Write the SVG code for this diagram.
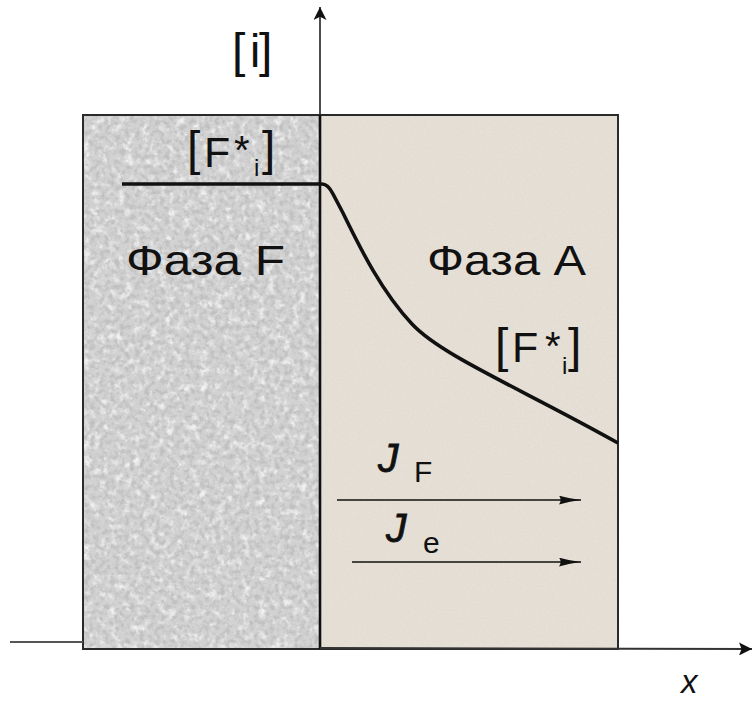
<svg xmlns="http://www.w3.org/2000/svg" width="752" height="701" viewBox="0 0 752 701">
<style>
.t{font-family:"Liberation Sans",Arial,sans-serif;fill:#111;}
.b{font-size:48px;}
.m{font-size:43px;}
.s{font-size:40px;}
.j{font-size:41px;font-style:italic;stroke:#111;stroke-width:0.8;}
.fl{stroke:#111;stroke-width:1.6;fill:none;}
</style>
<defs>
<filter id="darkF" x="0" y="0" width="100%" height="100%">
<feTurbulence type="fractalNoise" baseFrequency="0.2" numOctaves="3" seed="3" result="n"/>
<feColorMatrix type="matrix" values="0 0 0 0 0.45  0 0 0 0 0.45  0 0 0 0 0.45  0 0 0 -3 1.75" in="n" result="c"/>
<feComposite in="c" in2="SourceGraphic" operator="in"/>
</filter>
<filter id="lightF" x="0" y="0" width="100%" height="100%">
<feTurbulence type="fractalNoise" baseFrequency="0.12" numOctaves="3" seed="9" result="n"/>
<feColorMatrix type="matrix" values="0 0 0 0 0.95  0 0 0 0 0.95  0 0 0 0 0.95  0 0 0 3 -1.45" in="n" result="c"/>
<feComposite in="c" in2="SourceGraphic" operator="in"/>
</filter>
<filter id="noiseA" x="0" y="0" width="100%" height="100%">
<feTurbulence type="fractalNoise" baseFrequency="0.5" numOctaves="2" seed="7" result="n"/>
<feColorMatrix type="matrix" values="0 0 0 0 0.72  0 0 0 0 0.68  0 0 0 0 0.62  0 0 0 -3 1.6" in="n" result="c"/>
<feComposite in="c" in2="SourceGraphic" operator="in"/>
</filter>
<marker id="ah" viewBox="0 0 20 8" refX="20" refY="4" markerWidth="22" markerHeight="9" markerUnits="userSpaceOnUse" orient="auto">
<path d="M0,0 Q10,3 20,4 Q10,5 0,8 Q3,4 0,0 z" fill="#111"/>
</marker>
<marker id="ahx" viewBox="0 0 10 10" refX="10" refY="5" markerWidth="20" markerHeight="13" markerUnits="userSpaceOnUse" orient="auto">
<path d="M0,0 L10,5 L0,10 L2,5 z" fill="#111"/>
</marker>
<marker id="ahy" viewBox="0 0 10 10" refX="10" refY="5" markerWidth="27" markerHeight="13" markerUnits="userSpaceOnUse" orient="auto">
<path d="M0,0 L10,5 L0,10 L2.5,5 z" fill="#111"/>
</marker>
</defs>
<rect width="752" height="701" fill="#fff"/>
<g id="phaseF">
<rect x="83" y="115" width="237" height="534" fill="#d2d2d2"/>
<rect x="83" y="115" width="237" height="534" fill="#fff" filter="url(#lightF)" opacity="0.8"/>
<rect x="83" y="115" width="237" height="534" fill="#fff" filter="url(#darkF)" opacity="0.6"/>
</g>
<g id="phaseA">
<rect x="320" y="115" width="298" height="534" fill="#e6dfd5"/>
<rect x="320" y="115" width="298" height="534" fill="#fff" filter="url(#noiseA)" opacity="0.5"/>
</g>
<rect x="83" y="115" width="535" height="534" fill="none" stroke="#2a2a2a" stroke-width="2"/>
<g id="connectors">
<line x1="320" y1="115" x2="320" y2="649" stroke="#111" stroke-width="2.6"/>
<line x1="320" y1="116" x2="320" y2="7" stroke="#222" stroke-width="1.6" marker-end="url(#ahy)"/>
<path d="M10,642 L83,642" stroke="#555" stroke-width="2"/>
<path d="M320,648 L752,649" stroke="#333" stroke-width="2" marker-end="url(#ahx)"/>
<path d="M122,184 H322 Q328,184 333,194 L343,213 C361,250 382,292 412,324 C442,356 520,388 618,443" stroke="#111" stroke-width="3.6" fill="none"/>
<line class="fl" x1="337" y1="500" x2="581" y2="500" marker-end="url(#ah)"/>
<line class="fl" x1="352" y1="562" x2="581" y2="562" marker-end="url(#ah)"/>
</g>
<g id="labels">
<g id="lblI"><text class="t b" x="232" y="67">[</text><text class="t" x="250" y="67" font-size="46">i</text><text class="t b" x="259" y="67">]</text></g>
<g id="lblF"><text class="t b" x="187" y="165">[</text><text class="t m" x="204" y="167">F</text><text class="t s" x="234" y="164">*</text><text class="t" x="254" y="176" font-size="24">i</text><text class="t b" x="262" y="165">]</text></g>
<text class="t m" x="126" y="275" textLength="159" lengthAdjust="spacingAndGlyphs">Фаза F</text>
<text class="t m" x="427" y="275" textLength="159" lengthAdjust="spacingAndGlyphs">Фаза A</text>
<g id="lblA"><text class="t b" x="495" y="362">[</text><text class="t m" x="512" y="362">F</text><text class="t s" x="545" y="360">*</text><text class="t" x="562" y="374" font-size="24">i</text><text class="t b" x="568" y="362">]</text></g>
<text class="t j" x="378" y="472">J</text><text class="t" x="414" y="482" font-size="30">F</text>
<text class="t j" x="386" y="542">J</text><text class="t" x="423" y="553" font-size="30">e</text>
<text class="t" x="681" y="693" font-size="33" font-style="italic">x</text>
</g>
</svg>
